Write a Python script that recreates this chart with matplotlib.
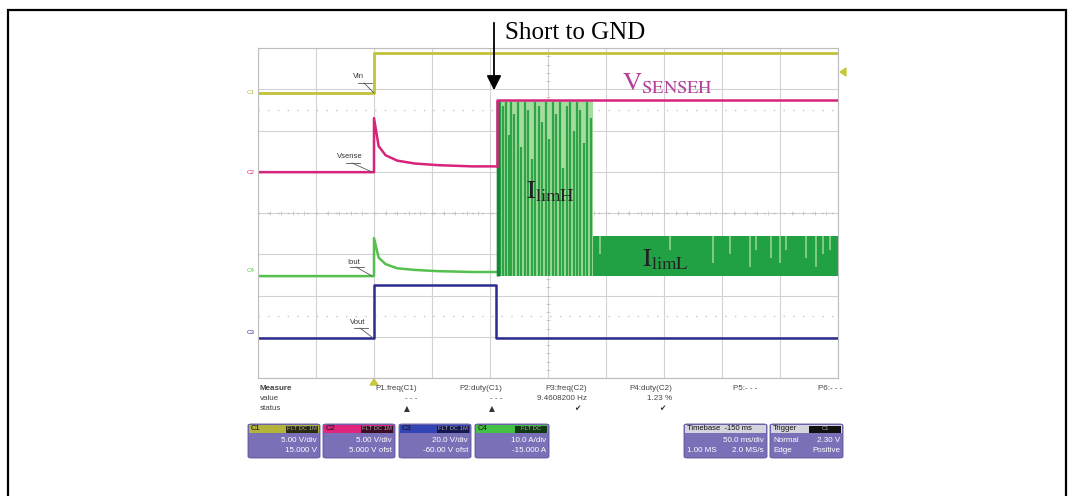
import numpy as np
import matplotlib.pyplot as plt
from matplotlib.patches import FancyBboxPatch, Rectangle, Polygon

W, H = 1074, 496
plt.rcParams['mathtext.fontset'] = 'stix'
plt.rcParams['font.family'] = 'Liberation Sans'

# time in ms (50 ms/div, trigger at 0 ms), level in screen divisions
vin_t = [-100, 0, 0, 400]
vin_v = [6.91, 6.91, 7.88, 7.88]

vsense_t = [-100, 0, 0, 4, 10, 20, 35, 55, 85, 106, 106, 400]
vsense_v = [4.99, 4.99, 6.30, 5.62, 5.40, 5.27, 5.20, 5.16, 5.13, 5.13, 6.74, 6.74]

iout_t = [-100, 0, 0, 4, 10, 20, 35, 55, 85, 106]
iout_v = [2.47, 2.47, 3.39, 2.92, 2.76, 2.66, 2.62, 2.59, 2.57, 2.57]

vout_t = [-100, 0, 0, 105, 105, 400]
vout_v = [0.97, 0.97, 2.25, 2.25, 0.97, 0.97]

# current limitation phases after the short
ilim_base = 2.47
limh_span = (106, 189)
limh_top = 6.72
liml_span = (189, 400)
liml_top = 3.44
# dark pulses inside the I_limH burst (time, top level)
pulse_t = [107, 108.5, 111, 113.5, 116, 118.5, 121, 124, 127, 130, 133, 136, 139, 142,
           145, 148, 151, 154, 157, 160, 163, 166, 169, 172, 175, 178, 181, 184, 187]
pulse_top = [6.72, 6.72, 6.6, 6.7, 5.9, 6.7, 6.4, 6.7, 5.6, 6.7, 6.5, 5.3, 6.7, 6.6,
             6.2, 6.7, 5.8, 6.7, 6.4, 6.7, 5.1, 6.6, 6.7, 6.0, 6.7, 6.5, 5.7, 6.7, 6.3]
# light gaps inside the I_limL band (time, lowest level reached)
gap_t = [195, 255, 292, 307, 324, 329, 342, 350, 355, 372, 381, 387, 393]
gap_low = [3.0, 3.1, 2.8, 3.0, 2.7, 3.1, 2.9, 2.8, 3.1, 2.9, 2.7, 3.0, 3.1]

fig = plt.figure(figsize=(W / 100, H / 100), dpi=100)

def fx(x):
    return x / W

def fy(y):
    return 1 - y / H

# outer frame of the datasheet figure
fig.add_artist(Rectangle((fx(8), fy(520)), fx(1058), 510 / H, transform=fig.transFigure,
                         fill=False, ec='black', lw=1.6))

ax = fig.add_axes([fx(258), fy(378), fx(580), 330 / H])
ax.set_xlim(-100, 400)
ax.set_ylim(0, 8)
ax.set_xticks(np.arange(-100, 401, 50))
ax.set_yticks(np.arange(0, 9, 1))
ax.set_axisbelow(True)
ax.grid(True, color='#d2d2d2', lw=0.8)
ax.tick_params(length=0, labelbottom=False, labelleft=False)
for s in ax.spines.values():
    s.set_color('#bdbdbd')
    s.set_linewidth(0.8)

# center ticks and dotted reference lines
ax.hlines([6.5, 1.5], -100, 400, colors='#c8c8c8', lw=1.0, linestyles=(0, (1, 6)), zorder=0.8)
ax.hlines(4, -100, 400, colors='#b8b8b8', lw=1.0, linestyles=(0, (1, 6)), zorder=0.8)
tk = np.arange(-100, 401, 10)
ax.vlines(tk, 3.95, 4.05, colors='#c4c4c4', lw=0.6, zorder=0.8)
tv = np.arange(0, 8.01, 0.2)
ax.hlines(tv, 148.5, 151.5, colors='#c4c4c4', lw=0.6, zorder=0.8)

# channel traces
ax.plot(vin_t, vin_v, color='#c2c23a', lw=2.0)
ax.plot(vsense_t[:10], vsense_v[:10], color='#d6247c', lw=1.8)
ax.plot(iout_t, iout_v, color='#55c04e', lw=1.8)

# I_limH burst
ax.fill_between(limh_span, ilim_base, limh_top, color='#a3dc9e', lw=0)
ax.vlines(pulse_t, ilim_base, pulse_top, colors='#2ea447', lw=1.6)
ax.vlines(limh_span[0] + 1, ilim_base, limh_top, colors='#17863a', lw=2.5)
# I_limL band
ax.fill_between(liml_span, ilim_base, liml_top, color='#22a044', lw=0)
ax.vlines(gap_t, gap_low, liml_top, colors='#8fd48c', lw=1.2)

ax.plot(vsense_t[9:], vsense_v[9:], color='#d6247c', lw=1.8)
ax.plot(vout_t, vout_v, color='#2c2c90', lw=1.8)

# trace labels with leader lines
small = dict(fontsize=5.5, color='#333333', ha='center', va='center')
for txt, (tx, ty), (x0, y0), (x1, y1) in [
        ('Vin', (358, 76), (364, 83), (374, 93)),
        ('Vsense', (350, 157), (352, 163), (372, 172)),
        ('Iout', (354, 262), (356, 267), (372, 276)),
        ('Vout', (358, 322), (360, 328), (373, 338))]:
    fig.text(fx(tx), fy(ty), txt, **small)
    fig.add_artist(plt.Line2D([fx(x0 - 6), fx(x0 + 8)], [fy(y0), fy(y0)], color='#555555', lw=0.6))
    fig.add_artist(plt.Line2D([fx(x0), fx(x1)], [fy(y0), fy(y1)], color='#555555', lw=0.6))

for txt, y, c in [('C1', 93, '#b8b840'), ('C2', 172, '#d6247c'), ('C4', 270, '#55c04e'), ('C3', 332, '#2c2c90')]:
    fig.text(fx(251), fy(y), txt, fontsize=4.5, color=c, ha='center', va='center')

# trigger markers
fig.add_artist(Polygon([(fx(846), fy(68)), (fx(846), fy(76)), (fx(840), fy(72))],
                       transform=fig.transFigure, color='#c8c840'))
fig.add_artist(Polygon([(fx(370), fy(385)), (fx(378), fy(385)), (fx(374), fy(379))],
                       transform=fig.transFigure, color='#c8c840'))

# annotations
fig.text(fx(505), fy(33), 'Short to GND', fontsize=18, family='Liberation Serif', va='center')
ax.annotate('', xy=(fx(494), fy(93)), xycoords='figure fraction',
            xytext=(fx(494), fy(20)), textcoords='figure fraction',
            arrowprops=dict(arrowstyle='-|>', color='black', lw=1.3, mutation_scale=22))
fig.text(fx(622), fy(84), r'$\mathrm{V}_{\mathrm{SENSEH}}$', fontsize=19, color='#b4409a', va='center')
fig.text(fx(526), fy(192), r'$\mathrm{I}_{\mathrm{limH}}$', fontsize=19, color='#222222', va='center')
fig.text(fx(642), fy(260), r'$\mathrm{I}_{\mathrm{limL}}$', fontsize=19, color='#222222', va='center')

# measure panel
ptxt = dict(fontsize=5.8, color='#444444', va='center')
fig.text(fx(260), fy(388), 'Measure', fontweight='bold', **ptxt)
fig.text(fx(260), fy(398), 'value', **ptxt)
fig.text(fx(260), fy(409), 'status', **ptxt)
for lab, val, stat, xr in [('P1.freq(C1)', '- - -', '\u25b2', 417),
                            ('P2:duty(C1)', '- - -', '\u25b2', 502),
                            ('P3:freq(C2)', '9.4608200 Hz', '\u2714', 587),
                            ('P4:duty(C2)', '1.23 %', '\u2714', 672),
                            ('P5:- - -', '', '', 757),
                            ('P6:- - -', '', '', 842)]:
    fig.text(fx(xr), fy(388), lab, ha='right', **ptxt)
    fig.text(fx(xr), fy(398), val, ha='right', **ptxt)
    if stat:
        fig.text(fx(xr - 10), fy(409), stat, ha='center', fontsize=5.5, color='#333333',
                 va='center', family='DejaVu Sans')

def box(x0, x1, head_col, head_txt, tag, tag_col, line1, line2, head_fg='#111111'):
    y0, y1 = 424, 458
    fig.add_artist(FancyBboxPatch((fx(x0), fy(y1)), fx(x1 - x0), (y1 - y0) / H,
                                  boxstyle='round,pad=0,rounding_size=0.003',
                                  transform=fig.transFigure, fc='#7a70b8', ec='#5a5098', lw=0.6))
    fig.add_artist(Rectangle((fx(x0 + 1), fy(433)), fx(x1 - x0 - 2), 8 / H,
                             transform=fig.transFigure, fc=head_col, ec='none'))
    if tag:
        fig.add_artist(Rectangle((fx(x1 - 34), fy(432.5)), fx(32), 7 / H,
                                 transform=fig.transFigure, fc=tag_col, ec='none'))
        fig.text(fx(x1 - 18), fy(428.5), tag, fontsize=4.2, color='#aaaaaa', ha='center', va='center')
    fig.text(fx(x0 + 3), fy(428.5), head_txt, fontsize=5.5, color=head_fg, va='center')
    fig.text(fx(x1 - 3), fy(440), line1[1], fontsize=5.8, color='white', ha='right', va='center')
    fig.text(fx(x1 - 3), fy(451), line2[1], fontsize=5.8, color='white', ha='right', va='center')
    if line1[0]:
        fig.text(fx(x0 + 3), fy(440), line1[0], fontsize=5.8, color='white', va='center')
    if line2[0]:
        fig.text(fx(x0 + 3), fy(451), line2[0], fontsize=5.8, color='white', va='center')

box(248, 320, '#b4b43a', 'C1', 'FLT DC 1M', '#2a2a10', ('', '5.00 V/div'), ('', '15.000 V'))
box(323, 395, '#e0257c', 'C2', 'FLT DC 1M', '#3a0c22', ('', '5.00 V/div'), ('', '5.000 V ofst'))
box(399, 471, '#3344b4', 'C3', 'FLT DC 1M', '#141650', ('', '20.0 V/div'), ('', '-60.00 V ofst'))
box(475, 549, '#44c044', 'C4', 'FLT DC', '#123a12', ('', '10.0 A/div'), ('', '-15.000 A'))
box(684, 767, '#d4d4dc', 'Timebase  -150 ms', '', '', ('', '50.0 ms/div'), ('1.00 MS', '2.0 MS/s'))
box(770, 843, '#d4d4dc', 'Trigger', 'C1', '#111111', ('Normal', '2.30 V'), ('Edge', 'Positive'))

plt.savefig('out.png', dpi=100)
